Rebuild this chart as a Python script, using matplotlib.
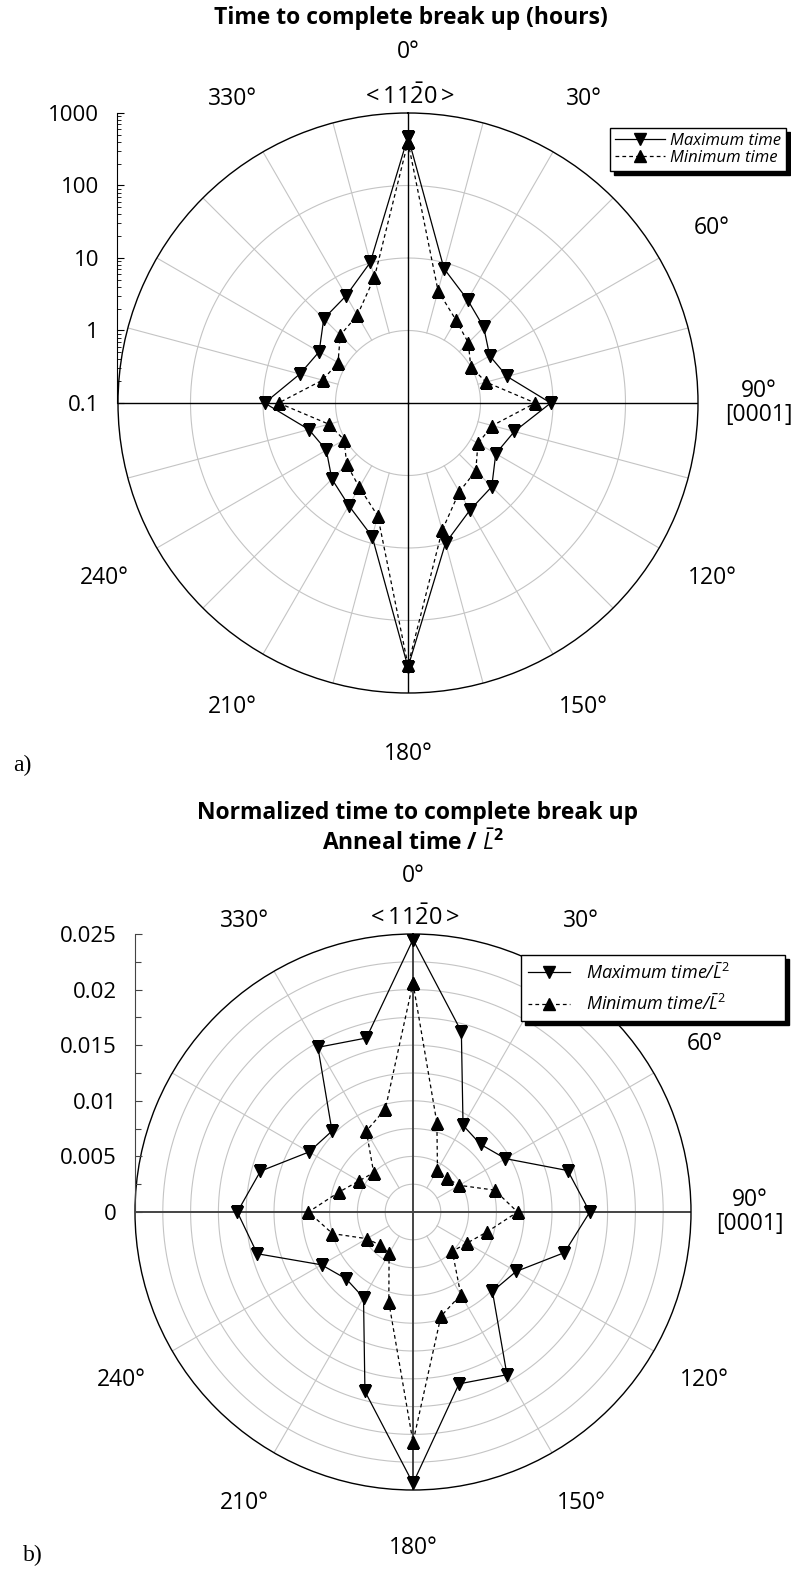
import numpy as np
import matplotlib
matplotlib.use("Agg")
import matplotlib.pyplot as plt
from matplotlib.ticker import FuncFormatter, LogLocator, MultipleLocator, NullFormatter

plt.rcParams['font.family'] = ['Open Sans', 'DejaVu Sans']
plt.rcParams['mathtext.fontset'] = 'custom'
plt.rcParams['mathtext.rm'] = 'Open Sans'
plt.rcParams['mathtext.it'] = 'Open Sans:italic'
plt.rcParams['mathtext.bf'] = 'Open Sans:bold'

# measurement directions (deg, clockwise from <11-20>)
angles = np.arange(0, 360, 15)

# a) time to complete break up (hours)
max_a = [470, 8.3, 4.4, 3.0, 2.0, 2.6, 9.3, 3.3, 2.5, 4.3, 5.1, 10.0,
         440, 8.1, 4.3, 3.05, 2.0, 2.6, 9.5, 3.5, 2.6, 4.4, 5.1, 10.2]
min_a = [400, 4.0, 2.1, 1.5, 1.0, 1.3, 5.7, 1.6, 1.3, 2.1, 2.6, 6.6,
         415, 4.1, 2.2, 1.57, 1.04, 1.35, 6.1, 1.66, 1.3, 2.1, 2.5, 6.2]

# b) normalized time (anneal time / L^2)
max_b = [0.0245, 0.0168, 0.0090, 0.0086, 0.0096, 0.0144, 0.0159, 0.0141,
         0.0107, 0.0101, 0.0169, 0.0160, 0.0244, 0.0167, 0.0089, 0.0085,
         0.0095, 0.0145, 0.0158, 0.0142, 0.0108, 0.0103, 0.0171, 0.0162]
min_b = [0.0206, 0.0083, 0.0044, 0.0043, 0.0048, 0.0076, 0.0094, 0.0069,
         0.0056, 0.0050, 0.0086, 0.0097, 0.0207, 0.0084, 0.0043, 0.0042,
         0.0048, 0.0075, 0.0094, 0.0069, 0.0056, 0.0050, 0.0084, 0.0096]

# 270 and 300 are hidden behind the radial axis
angle_ticks = [0, 30, 60, 90, 120, 150, 180, 210, 240, 330]
angle_labels = ['0°', '30°', '60°', '90°\n[0001]', '120°', '150°', '180°',
                '210°', '240°', '330°']
radial_ticks_a = [0.1, 1, 10, 100, 1000]
radial_ticks_b = [0, 0.005, 0.01, 0.015, 0.02, 0.025]

W, H = 791, 1576
fig = plt.figure(figsize=(W / 100, H / 100), dpi=100)
GRID = '#c4c4c4'


def box(cx, cy, r):
    return [(cx - r) / W, 1 - (cy + r) / H, 2 * r / W, 2 * r / H]


def setup(ax):
    ax.set_theta_zero_location('N')
    ax.set_theta_direction(-1)
    ax.grid(False)
    ax.spines['polar'].set_linewidth(1.0)
    ax.spines['polar'].set_color('black')


def angle_text(ax, f=1.21):
    for a, lab in zip(angle_ticks, angle_labels):
        t = np.deg2rad(a)
        ax.text(0.5 + 0.5 * f * np.sin(t), 0.5 + 0.5 * f * np.cos(t), lab,
                transform=ax.transAxes, ha='center', va='center',
                fontsize=16.5, linespacing=1.0)
    ax.text(0.5, 0.5 + 0.5 * 1.055, r'$\mathregular{<11\bar{2}0>}$',
            transform=ax.transAxes, ha='center', va='center', fontsize=17)


def closed(vals):
    return np.deg2rad(np.append(angles, angles[0])), np.append(vals, vals[0])


tt = np.linspace(0, 2 * np.pi, 400)

# ---------------- a) ----------------
ax1 = fig.add_axes(box(408, 403, 290), projection='polar')
setup(ax1)
ax1.set_rscale('log')
ax1.set_rlim(0.1, 1000)
ax1.set_xticks([])
ax1.set_yticks([])
for rv in [1, 10, 100]:
    ax1.plot(tt, np.full_like(tt, rv), color=GRID, lw=0.8, zorder=1)
for a in range(15, 360, 15):
    if a % 90:
        ax1.plot([np.deg2rad(a)] * 2, [1, 1000], color=GRID, lw=0.8, zorder=1)
for a in [0, 90, 180, 270]:
    ax1.plot([np.deg2rad(a)] * 2, [0.1, 1000], color='black', lw=1.0, zorder=2)

th, r = closed(max_a)
l1, = ax1.plot(th, r, color='black', lw=0.9, marker='v', ms=8, zorder=4,
               label='Maximum time')
th, r = closed(min_a)
l2, = ax1.plot(th, r, color='black', lw=0.9, ls=(0, (3, 2.5)), marker='^', ms=8,
               zorder=3, label='Minimum time')
angle_text(ax1)

rax1 = fig.add_axes([117 / W, 1 - 403 / H, 0.002, 290 / H])
rax1.set_yscale('log')
rax1.set_ylim(0.1, 1000)
for s in ['right', 'top', 'bottom']:
    rax1.spines[s].set_visible(False)
rax1.patch.set_visible(False)
rax1.set_xticks([])
rax1.set_yticks(radial_ticks_a)
rax1.yaxis.set_major_formatter(FuncFormatter(lambda v, _: f'{v:g}'))
rax1.yaxis.set_minor_locator(LogLocator(subs=np.arange(2, 10)))
rax1.yaxis.set_minor_formatter(NullFormatter())
rax1.tick_params(axis='y', which='major', direction='in', length=5, width=0.8,
                 pad=13, labelsize=16)
rax1.tick_params(axis='y', which='minor', direction='in', length=3, width=0.6)

leg1 = fig.legend(handles=[l1, l2], loc='upper left',
                  bbox_to_anchor=(610 / W, 1 - 128 / H),
                  prop={'style': 'italic', 'size': 12}, fancybox=False,
                  edgecolor='black', framealpha=1, borderaxespad=0,
                  shadow={'ox': 3, 'oy': -3, 'facecolor': 'black',
                          'edgecolor': 'black', 'alpha': 1},
                  handlelength=3.0, labelspacing=0.05, borderpad=0.3,
                  handletextpad=0.3)
leg1.get_frame().set_linewidth(1.0)

fig.text(411 / W, 1 - 18 / H, 'Time to complete break up (hours)',
         ha='center', va='center', fontsize=16.5, fontweight='bold')
fig.text(22 / W, 1 - 765 / H, 'a)', ha='center', va='center', fontsize=17,
         family='Liberation Serif')

# ---------------- b) ----------------
ax2 = fig.add_axes(box(413, 1212, 278), projection='polar')
setup(ax2)
ax2.set_rlim(0, 0.025)
ax2.set_xticks([])
ax2.set_yticks([])
for k in range(1, 10):
    ax2.plot(tt, np.full_like(tt, 0.0025 * k), color=GRID, lw=0.8, zorder=1)
for a in range(30, 360, 30):
    if a % 90:
        ax2.plot([np.deg2rad(a)] * 2, [0.0025, 0.025], color=GRID, lw=0.8, zorder=1)
for a in [0, 90, 180, 270]:
    ax2.plot([np.deg2rad(a)] * 2, [0, 0.025], color='#444444', lw=1.4, zorder=2)

th, r = closed(max_b)
m1, = ax2.plot(th, r, color='black', lw=0.9, marker='v', ms=8, zorder=4,
               label=r'Maximum time/$\bar{L}^2$')
th, r = closed(min_b)
m2, = ax2.plot(th, r, color='black', lw=0.9, ls=(0, (3, 2.5)), marker='^', ms=8,
               zorder=3, label=r'Minimum time/$\bar{L}^2$')
angle_text(ax2)

rax2 = fig.add_axes([135 / W, 1 - 1212 / H, 0.002, 278 / H])
rax2.set_ylim(0, 0.025)
for s in ['right', 'top', 'bottom']:
    rax2.spines[s].set_visible(False)
rax2.spines['left'].set_color('#444444')
rax2.patch.set_visible(False)
rax2.set_xticks([])
rax2.set_yticks(radial_ticks_b)
rax2.yaxis.set_major_formatter(FuncFormatter(lambda v, _: f'{v:g}'))
rax2.yaxis.set_minor_locator(MultipleLocator(0.0025))
rax2.tick_params(axis='y', which='major', direction='in', length=5, width=0.8,
                 pad=13, labelsize=16, color='#444444')
rax2.tick_params(axis='y', which='minor', direction='in', length=4, width=0.8,
                 color='#444444')

leg2 = fig.legend(handles=[m1, m2], loc='upper left',
                  bbox_to_anchor=(521 / W, 1 - 955 / H - 0.01, 264 / W, 0.01),
                  mode='expand',
                  prop={'style': 'italic', 'size': 13}, fancybox=False,
                  edgecolor='black', framealpha=1, borderaxespad=0,
                  shadow={'ox': 3, 'oy': -3, 'facecolor': 'black',
                          'edgecolor': 'black', 'alpha': 1},
                  handlelength=2.3, labelspacing=0.6, borderpad=0.4,
                  handletextpad=0.9)
leg2.get_frame().set_linewidth(1.0)

fig.text(418 / W, 1 - 813 / H, 'Normalized time to complete break up',
         ha='center', va='center', fontsize=16.5, fontweight='bold')
fig.text(413 / W, 1 - 843 / H, r'Anneal time / $\bar{L}^{\mathbf{2}}$',
         ha='center', va='center', fontsize=16.5, fontweight='bold')
fig.text(33 / W, 1 - 1555 / H, 'b)', ha='center', va='center', fontsize=17,
         family='Liberation Serif')

fig.savefig('out.png', dpi=100)
